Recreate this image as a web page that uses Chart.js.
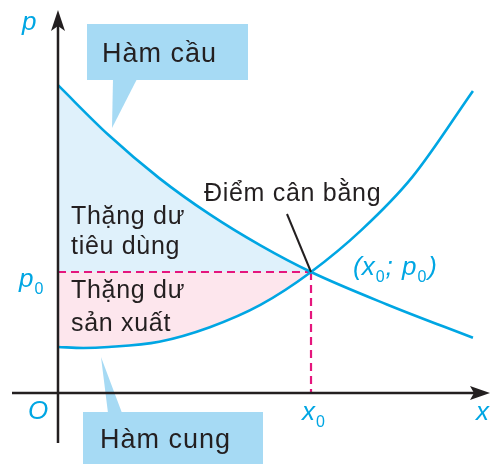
<!DOCTYPE html>
<html>
<head>
<meta charset="utf-8">
<script src="https://cdn.jsdelivr.net/npm/chart.js@4/dist/chart.umd.min.js"></script>
<style>
  html, body { margin: 0; padding: 0; background: #fff; }
  canvas { display: block; }
</style>
</head>
<body>
<canvas id="myChart" width="499" height="464"></canvas>
<script>
// equilibrium point
const x0 = 5;
const p0 = 2.5;

// demand curve (Hàm cầu)
const demandX = [0, 1, 2, 3, 4, 5, 6.5, 8.2];
const demandP = [6.36, 5.33, 4.44, 3.69, 3.05, 2.5, 1.83, 1.14];

// supply curve (Hàm cung)
const supplyX = [0, 0.5, 1, 2, 3, 4, 5, 6, 7, 8.2];
const supplyP = [0.95, 0.93, 0.95, 1.06, 1.36, 1.82, 2.5, 3.37, 4.46, 6.24];

const toPoints = (xs, ys) => xs.map((x, i) => ({ x: x, y: ys[i] }));

const CYAN = '#00a6e3';
const INK = '#231f20';
const FONT = "'Liberation Sans', Arial, sans-serif";

// setup
const data = {
  datasets: [{
    label: 'Hàm cầu',
    data: toPoints(demandX, demandP),
    borderColor: CYAN,
    borderWidth: 2.6,
    cubicInterpolationMode: 'monotone',
    pointRadius: 0,
    fill: { target: { value: p0 }, above: '#dff1fb', below: 'rgba(0,0,0,0)' }
  }, {
    label: 'Hàm cung',
    data: toPoints(supplyX, supplyP),
    borderColor: CYAN,
    borderWidth: 2.6,
    cubicInterpolationMode: 'monotone',
    pointRadius: 0,
    fill: { target: { value: p0 }, above: 'rgba(0,0,0,0)', below: '#fde6ed' }
  }, {
    label: 'p0',
    data: [{ x: 0, y: p0 }, { x: x0, y: p0 }],
    borderColor: '#e5167d',
    borderWidth: 2.2,
    borderDash: [8, 5],
    pointRadius: 0,
    fill: false
  }, {
    label: 'x0',
    data: [{ x: x0, y: p0 }, { x: x0, y: 0 }],
    borderColor: '#e5167d',
    borderWidth: 2.2,
    borderDash: [8, 5],
    pointRadius: 0,
    fill: false
  }]
};

function text(ctx, str, x, y, font, color, spacing) {
  ctx.font = font;
  ctx.fillStyle = color;
  ctx.letterSpacing = spacing || '0px';
  ctx.fillText(str, x, y);
  ctx.letterSpacing = '0px';
}

const IT = 'italic 26px ' + FONT;

// italic letter with upright subscript 0, returns end x
function subLabel(ctx, letter, x, y) {
  ctx.font = IT;
  ctx.fillStyle = CYAN;
  ctx.fillText(letter, x, y);
  const w = ctx.measureText(letter).width;
  ctx.font = '16px ' + FONT;
  ctx.fillText('0', x + w + 1, y + 7);
  return x + w + 1 + ctx.measureText('0').width;
}

const decor = {
  id: 'decor',
  beforeDatasetsDraw(chart) {
    const ctx = chart.ctx;
    ctx.save();
    ctx.fillStyle = '#a6daf4';
    // Hàm cầu callout
    ctx.fillRect(87, 24, 161, 56);
    ctx.beginPath();
    ctx.moveTo(113, 79); ctx.lineTo(112, 128); ctx.lineTo(137, 79);
    ctx.closePath(); ctx.fill();
    // Hàm cung callout
    ctx.fillRect(83, 412, 180, 52);
    ctx.beginPath();
    ctx.moveTo(108, 413); ctx.lineTo(101, 357); ctx.lineTo(122, 413);
    ctx.closePath(); ctx.fill();
    ctx.restore();
  },
  afterDatasetsDraw(chart) {
    const ctx = chart.ctx;
    const sx = chart.scales.x, sy = chart.scales.y;
    const ox = sx.getPixelForValue(0), oy = sy.getPixelForValue(0);
    const ex = sx.getPixelForValue(x0), ey = sy.getPixelForValue(p0);
    ctx.save();

    // axes
    ctx.strokeStyle = INK;
    ctx.lineWidth = 2.5;
    ctx.beginPath();
    ctx.moveTo(ox, 443); ctx.lineTo(ox, 26);
    ctx.moveTo(12, oy); ctx.lineTo(474, oy);
    ctx.stroke();
    ctx.fillStyle = INK;
    ctx.beginPath();
    ctx.moveTo(ox, 10); ctx.lineTo(ox + 7, 31); ctx.lineTo(ox, 26); ctx.lineTo(ox - 7, 31);
    ctx.closePath(); ctx.fill();
    ctx.beginPath();
    ctx.moveTo(490, oy); ctx.lineTo(470, oy + 7); ctx.lineTo(474, oy); ctx.lineTo(470, oy - 7);
    ctx.closePath(); ctx.fill();

    // pointer to equilibrium
    ctx.lineWidth = 2;
    ctx.beginPath();
    ctx.moveTo(287, 214); ctx.lineTo(ex, ey);
    ctx.stroke();

    // black texts
    const f25 = '25px ' + FONT, f27 = '27px ' + FONT;
    text(ctx, 'Hàm cầu', 102, 62, f27, INK, '1px');
    text(ctx, 'Hàm cung', 100, 448, f27, INK, '1px');
    text(ctx, 'Điểm cân bằng', 204, 201, f25, INK, '0.7px');
    text(ctx, 'Thặng dư', 71, 224, f25, INK, '0.7px');
    text(ctx, 'tiêu dùng', 71, 254, f25, INK, '0.7px');
    text(ctx, 'Thặng dư', 71, 298, f25, INK, '0.7px');
    text(ctx, 'sản xuất', 71, 331, f25, INK, '0.7px');

    // cyan axis labels
    text(ctx, 'p', 22, 30, IT, CYAN);
    text(ctx, 'O', 28, 419, IT, CYAN);
    text(ctx, 'x', 476, 420, IT, CYAN);
    subLabel(ctx, 'p', 19, ey + 15);
    subLabel(ctx, 'x', ex - 9, oy + 27);

    // (x0; p0)
    let cx = 353, by = ey + 3;
    text(ctx, '(', cx, by, IT, CYAN);
    cx += ctx.measureText('(').width;
    cx = subLabel(ctx, 'x', cx, by);
    text(ctx, ';', cx + 1, by, IT, CYAN);
    cx += ctx.measureText('; ').width + 3;
    cx = subLabel(ctx, 'p', cx, by);
    text(ctx, ')', cx + 2, by, IT, CYAN);

    ctx.restore();
  }
};

// config
const config = {
  type: 'line',
  data,
  options: {
    responsive: false,
    animation: false,
    layout: { padding: 0 },
    scales: {
      x: { type: 'linear', min: -1.146, max: 8.715, display: false },
      y: { type: 'linear', min: -1.467, max: 8.12, display: false }
    },
    plugins: {
      legend: { display: false },
      tooltip: { enabled: false },
      filler: { drawTime: 'beforeDatasetsDraw' }
    }
  },
  plugins: [decor]
};

// render init block
const myChart = new Chart(
  document.getElementById('myChart'),
  config
);
</script>
</body>
</html>
